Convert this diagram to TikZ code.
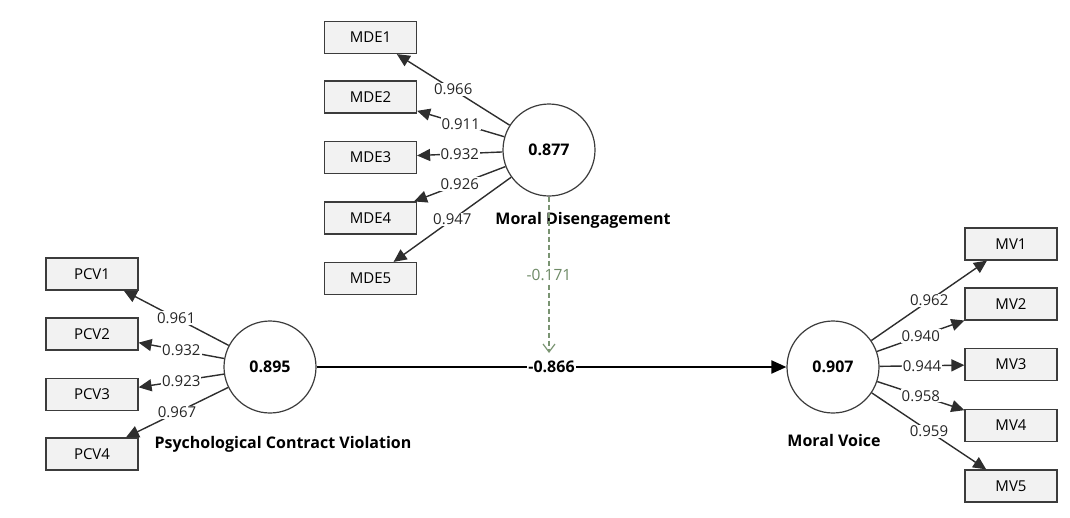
\documentclass[tikz,border=0pt]{standalone}
\usepackage{fontspec}
\setmainfont{Open Sans}
\usetikzlibrary{arrows.meta,calc}
\definecolor{boxfill}{HTML}{F2F2F2}
\definecolor{boxdraw}{HTML}{3C3C3C}
\definecolor{linecol}{HTML}{2E2E2E}
\definecolor{modcol}{HTML}{7A9472}
\definecolor{modtext}{HTML}{6E8A66}
\tikzset{
  ind/.style={draw=boxdraw, fill=boxfill, line width=1.2pt, minimum width=92pt, minimum height=32pt, inner sep=0pt, font=\fontsize{15}{17}\selectfont},
  lat/.style={circle, draw=boxdraw, fill=white, line width=1.2pt, minimum size=92pt, inner sep=0pt, font=\bfseries\fontsize{16}{18}\selectfont},
  latname/.style={font=\bfseries\fontsize{16}{19}\selectfont, inner sep=0pt},
  load/.style={draw=linecol, line width=1.4pt, -{Triangle[length=13pt,width=12pt]}},
  lab/.style={fill=white, inner sep=1pt, font=\fontsize{15}{17}\selectfont, text=black!85},
  pathline/.style={draw=black, line width=2pt, -{Triangle[length=15pt,width=13pt]}},
  modline/.style={draw=modcol, line width=1.8pt, dashed, dash pattern=on 5pt off 3pt, -{Straight Barb[length=8pt,width=12pt,line width=1.2pt]}},
}
\begin{document}
\begin{tikzpicture}[x=1pt,y=-1pt]
\useasboundingbox (0,0) rectangle (1070,517);
% latent variables
\node[lat] (md) at (549,150) {0.877};
\node[lat] (pcv) at (270,367) {0.895};
\node[lat] (mv) at (833,367) {0.907};
\node[latname] (mdname) at (583,220) {Moral Disengagement};
\node[latname] (pcvname) at (283,444) {Psychological Contract Violation};
\node[latname] (mvname) at (834,440) {Moral Voice};
% indicators MDE
\node[ind] (mde1) at (370.5,37.5) {MDE1};
\node[ind] (mde2) at (370.5,97) {MDE2};
\node[ind] (mde3) at (370.5,157.5) {MDE3};
\node[ind] (mde4) at (370.5,218) {MDE4};
\node[ind] (mde5) at (370.5,278.5) {MDE5};
% indicators PCV
\node[ind] (pcv1) at (92,274) {PCV1};
\node[ind] (pcv2) at (92,334) {PCV2};
\node[ind] (pcv3) at (92,394.5) {PCV3};
\node[ind] (pcv4) at (92,454) {PCV4};
% indicators MV
\node[ind] (mv1) at (1011,244) {MV1};
\node[ind] (mv2) at (1011,304) {MV2};
\node[ind] (mv3) at (1011,364.5) {MV3};
\node[ind] (mv4) at (1011,425.5) {MV4};
\node[ind] (mv5) at (1011,486) {MV5};
% loadings
\draw[load] (md) -- node[lab]{0.966} (mde1);
\draw[load] (md) -- node[lab]{0.911} (mde2);
\draw[load] (md) -- node[lab]{0.932} (mde3);
\draw[load] (md) -- node[lab]{0.926} (mde4);
\draw[load] (md) -- node[lab]{0.947} (mde5);
\draw[load] (pcv) -- node[lab]{0.961} (pcv1);
\draw[load] (pcv) -- node[lab]{0.932} (pcv2);
\draw[load] (pcv) -- node[lab]{0.923} (pcv3);
\draw[load] (pcv) -- node[lab]{0.967} (pcv4);
\draw[load] (mv) -- node[lab]{0.962} (mv1);
\draw[load] (mv) -- node[lab]{0.940} (mv2);
\draw[load] (mv) -- node[lab]{0.944} (mv3);
\draw[load] (mv) -- node[lab]{0.958} (mv4);
\draw[load] (mv) -- node[lab]{0.959} (mv5);
% structural path
\draw[pathline] (pcv) -- node[lab, pos=0.5, font=\bfseries\fontsize{16}{18}\selectfont, text=black]{-0.866} (mv);
% moderation
\coordinate (modend) at (549,353);
\draw[modline] (md) -- node[lab, pos=0.5, text=modtext, font=\fontsize{15.5}{17}\selectfont]{-0.171} (modend);
\end{tikzpicture}
\end{document}
